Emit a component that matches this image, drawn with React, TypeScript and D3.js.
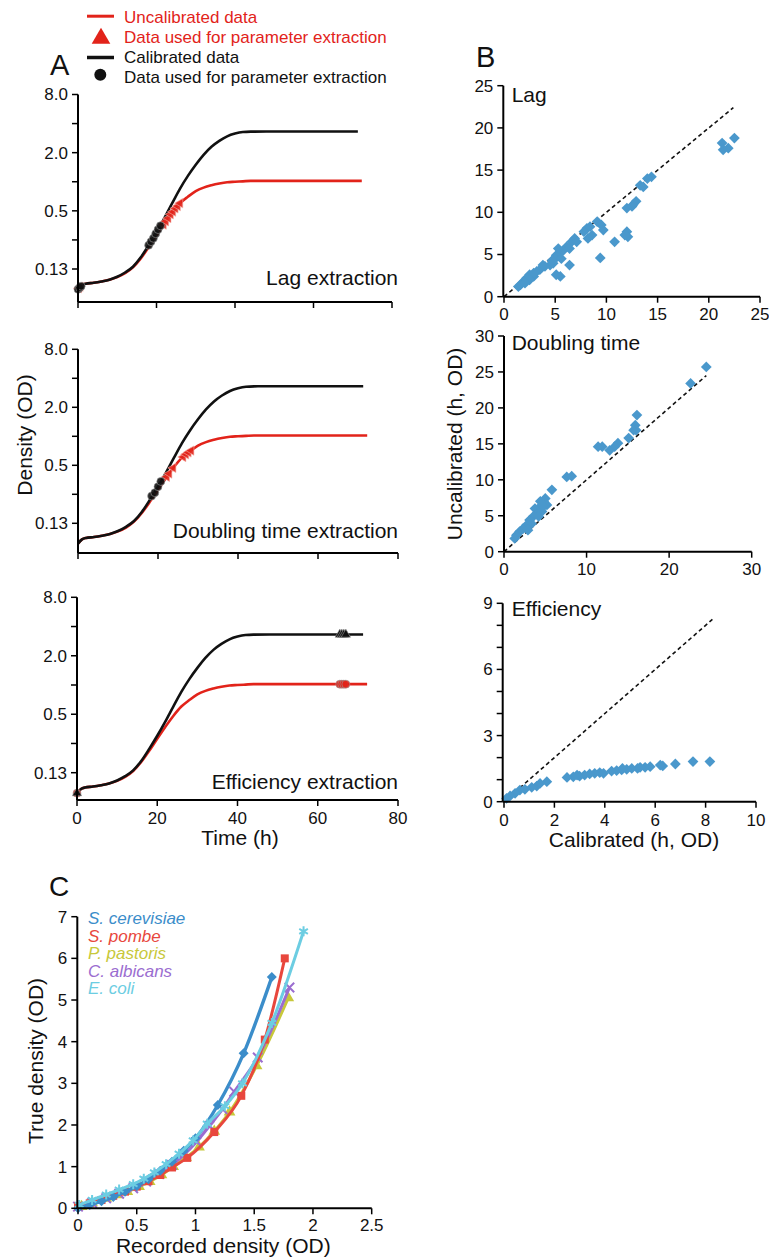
import React from "react";
import * as d3 from "d3";

const FONT = "'Liberation Sans', Arial, Helvetica, sans-serif";
const RED = "#e2231a";
const BLUE = "#4a98cc";

// ---------------- Panel A data ----------------
const calTime = [0, 1, 2, 4, 6, 8, 10, 12, 14, 16, 18, 20, 22, 24, 26, 28, 30, 32, 34, 36, 38, 40, 42, 44, 48, 56, 64, 71.3];
const calOD = [0.077, 0.085, 0.088, 0.09, 0.093, 0.097, 0.104, 0.115, 0.132, 0.165, 0.22, 0.3, 0.42, 0.6, 0.85, 1.15, 1.5, 1.9, 2.3, 2.65, 2.95, 3.15, 3.27, 3.3, 3.31, 3.31, 3.31, 3.31];
const uncalTime = [0, 1, 2, 4, 6, 8, 10, 12, 14, 16, 18, 20, 22, 24, 26, 28, 30, 32, 34, 36, 38, 40, 42, 44, 48, 56, 64, 72.3];
const uncalOD = [0.077, 0.085, 0.088, 0.09, 0.093, 0.097, 0.103, 0.113, 0.13, 0.161, 0.21, 0.28, 0.37, 0.48, 0.6, 0.7, 0.8, 0.87, 0.92, 0.96, 0.99, 1.0, 1.01, 1.02, 1.02, 1.02, 1.02, 1.02];

const densityTicks = [0.125, 0.5, 2, 8];
const densityTickLabels = ["0.13", "0.5", "2.0", "8.0"];
const densityMinor = [0.25, 1, 4];
const timeTicks = [0, 20, 40, 60, 80];

// markers: lag extraction
const lagCalMarkT = [0, 0.4, 0.8, 18, 18.6, 19.2, 19.8, 20.4, 21.0];
const lagCalMarkOD = [0.077, 0.08, 0.083, 0.22, 0.24, 0.26, 0.29, 0.32, 0.35];
const lagUncalMarkT = [0.2, 0.6, 21.8, 22.4, 23, 23.6, 24.2, 24.8, 25.4, 26];
const lagUncalMarkOD = [0.079, 0.082, 0.36, 0.39, 0.42, 0.46, 0.49, 0.53, 0.56, 0.6];
// markers: doubling time extraction
const dtCalMarkT = [18.4, 19.2, 20, 20.7];
const dtCalMarkOD = [0.24, 0.26, 0.3, 0.34];
const dtUncalMarkT = [22.2, 22.8, 23.8, 26.3, 27, 27.6, 28.3];
const dtUncalMarkOD = [0.38, 0.41, 0.47, 0.61, 0.65, 0.68, 0.71];
// markers: efficiency extraction
const effCalMarkT = [0, 65.5, 66, 66.5, 67];
const effCalMarkOD = [0.077, 3.31, 3.31, 3.31, 3.31];
const effUncalMarkT = [0, 65.5, 66, 66.5, 67];
const effUncalMarkOD = [0.077, 1.02, 1.02, 1.02, 1.02];

// ---------------- Panel B data ----------------
const lagCalibrated = [22.5, 21.3, 21.4, 21.9, 14.4, 14.0, 13.3, 13.6, 12.9, 12.6, 12.0, 12.5, 9.1, 9.5, 9.7, 9.4, 10.8, 12.0, 12.1, 11.8, 8.1, 7.8, 8.4, 8.2, 8.6, 6.4, 5.5, 5.1, 6.9, 6.6, 6.1, 5.8, 5.5, 5.1, 5.0, 4.8, 4.5, 4.0, 3.5, 3.2, 2.9, 2.5, 2.2, 1.9, 1.6, 1.4, 5.3, 5.6, 4.7, 3.8, 2.5, 2.05, 2.9, 7.1, 6.4];
const lagUncalibrated = [18.8, 18.2, 17.4, 17.6, 14.2, 14.0, 13.2, 13.0, 11.3, 10.9, 10.5, 10.7, 8.9, 8.5, 7.9, 4.6, 6.5, 7.7, 7.1, 7.3, 8.1, 7.7, 8.3, 6.9, 7.3, 3.75, 2.4, 2.6, 6.9, 6.5, 5.9, 5.5, 5.3, 4.9, 4.5, 3.95, 3.75, 3.6, 3.2, 3.0, 2.4, 2.6, 2.2, 1.8, 1.4, 1.2, 5.7, 4.5, 4.3, 3.75, 2.0, 1.6, 2.8, 6.5, 5.7];
const dtCalibrated = [24.5, 22.6, 16.1, 15.9, 16.0, 15.7, 15.1, 13.8, 13.4, 12.8, 11.9, 11.4, 7.6, 8.2, 5.8, 5.0, 4.8, 5.2, 4.4, 3.75, 4.0, 4.6, 3.55, 3.1, 3.35, 2.75, 2.3, 1.9, 1.5, 1.3, 4.2, 4.8, 2.9, 4.4];
const dtUncalibrated = [25.7, 23.4, 19.0, 17.6, 16.9, 16.9, 15.8, 15.1, 14.6, 14.1, 14.6, 14.6, 10.4, 10.5, 8.6, 7.4, 7.0, 6.5, 6.3, 6.0, 5.3, 5.6, 4.9, 4.4, 3.9, 3.7, 3.2, 2.8, 2.3, 1.85, 4.9, 6.3, 3.0, 7.0];
const effCalibrated = [8.17, 7.5, 6.8, 6.3, 6.2, 5.8, 5.6, 5.3, 5.07, 4.87, 4.67, 4.47, 4.27, 3.8, 3.6, 3.4, 3.2, 3.0, 2.75, 2.5, 1.7, 1.3, 1.1, 0.63, 0.44, 0.24, 0.1, 2.9, 3.95, 4.7, 5.4, 1.43, 0.83];
const effUncalibrated = [1.82, 1.82, 1.71, 1.62, 1.66, 1.59, 1.56, 1.51, 1.51, 1.47, 1.44, 1.41, 1.39, 1.32, 1.29, 1.26, 1.21, 1.16, 1.13, 1.1, 0.91, 0.71, 0.65, 0.53, 0.38, 0.26, 0.15, 1.21, 1.29, 1.51, 1.56, 0.83, 0.56];
const lagIdentityEnd = 22.4;
const dtIdentityEnd = 24.5;
const effIdentityEnd = 8.27;
const lagTicks = [0, 5, 10, 15, 20, 25];
const dtTicks = [0, 10, 20, 30];
const dtYTicks = [0, 5, 10, 15, 20, 25, 30];
const effXTicks = [0, 2, 4, 6, 8, 10];
const effYTicks = [0, 3, 6, 9];
const effYMinor = [1, 2, 4, 5, 7, 8];

// ---------------- Panel C data ----------------
const speciesNames = ["S. cerevisiae", "S. pombe", "P. pastoris", "C. albicans", "E. coli"];
const speciesColors = ["#3b8dca", "#e8473d", "#c8c83a", "#9b6dd0", "#6ccde2"];
const cerevisiaeRecorded = [0, 0.1, 0.2, 0.3, 0.4, 0.5, 0.6, 0.7, 0.8, 0.9, 1.0, 1.19, 1.41, 1.65];
const cerevisiaeTrue = [0, 0.08, 0.17, 0.27, 0.4, 0.53, 0.7, 0.9, 1.12, 1.38, 1.68, 2.48, 3.72, 5.55];
const pombeRecorded = [0, 0.1, 0.2, 0.3, 0.4, 0.5, 0.6, 0.7, 0.8, 0.93, 1.16, 1.39, 1.59, 1.76];
const pombeTrue = [0.05, 0.12, 0.2, 0.3, 0.4, 0.52, 0.65, 0.8, 0.98, 1.21, 1.83, 2.7, 4.05, 6.0];
const pastorisRecorded = [0.03, 0.12, 0.24, 0.33, 0.42, 0.52, 0.61, 0.71, 0.81, 0.92, 1.03, 1.16, 1.29, 1.52, 1.79];
const pastorisTrue = [0.04, 0.13, 0.24, 0.32, 0.4, 0.52, 0.64, 0.8, 1.0, 1.22, 1.47, 1.85, 2.31, 3.42, 5.05];
const albicansRecorded = [0, 0.12, 0.24, 0.35, 0.47, 0.58, 0.69, 0.8, 0.9, 1.01, 1.12, 1.23, 1.33, 1.53, 1.8];
const albicansTrue = [0.04, 0.13, 0.24, 0.35, 0.48, 0.64, 0.82, 1.04, 1.28, 1.6, 1.98, 2.38, 2.8, 3.62, 5.3];
const coliRecorded = [0.01, 0.12, 0.24, 0.35, 0.47, 0.56, 0.65, 0.75, 0.86, 0.98, 1.1, 1.25, 1.4, 1.65, 1.92];
const coliTrue = [0.08, 0.2, 0.33, 0.45, 0.58, 0.71, 0.86, 1.06, 1.31, 1.63, 2.03, 2.45, 3.0, 4.45, 6.65];
const recordedTicks = [0, 0.5, 1, 1.5, 2, 2.5];
const recordedTickLabels = ["0", "0.5", "1", "1.5", "2", "2.5"];
const trueTicks = [0, 1, 2, 3, 4, 5, 6, 7];

// ---------------- helpers ----------------
type Sc = (v: number) => number;

function LeftAxis({ x, y, ticks, labels, minor, top, bottom, fs = 17 }: { x: number; y: Sc; ticks: number[]; labels: string[]; minor?: number[]; top: number; bottom: number; fs?: number }) {
  return (
    <g>
      <line x1={x} x2={x} y1={bottom} y2={top} stroke="#000" strokeWidth={2} />
      {ticks.map((t, i) => (
        <g key={"t" + i}>
          <line x1={x - 6} x2={x} y1={y(t)} y2={y(t)} stroke="#000" strokeWidth={1.5} />
          <text x={x - 10} y={y(t)} dy="0.35em" textAnchor="end" fontSize={fs} fill="#111">{labels[i]}</text>
        </g>
      ))}
      {(minor || []).map((t, i) => (
        <line key={"m" + i} x1={x - 6} x2={x} y1={y(t)} y2={y(t)} stroke="#000" strokeWidth={1.5} />
      ))}
    </g>
  );
}

function BottomAxis({ y, x, ticks, labels, left, right, labelY, fs = 17 }: { y: number; x: Sc; ticks: number[]; labels?: string[]; left: number; right: number; labelY?: number; fs?: number }) {
  return (
    <g>
      <line x1={left} x2={right} y1={y} y2={y} stroke="#000" strokeWidth={2} />
      {ticks.map((t, i) => (
        <g key={i}>
          <line x1={x(t)} x2={x(t)} y1={y} y2={y + 6} stroke="#000" strokeWidth={1.5} />
          {labels && labelY !== undefined ? (
            <text x={x(t)} y={labelY} dy="0.35em" textAnchor="middle" fontSize={fs} fill="#111">{labels[i]}</text>
          ) : null}
        </g>
      ))}
    </g>
  );
}

// ---------------- Panel A ----------------
const panelsA = [
  { x0: 78, x1: 392, y8: 94.5, y0125: 269, axisY: 302, title: "Lag extraction", titleY: 285,
    calT: lagCalMarkT, calOD: lagCalMarkOD, calShape: "circle", uncalT: lagUncalMarkT, uncalOD: lagUncalMarkOD, uncalShape: "tri" },
  { x0: 78, x1: 398, y8: 349.3, y0125: 523.3, axisY: 553, title: "Doubling time extraction", titleY: 538,
    calT: dtCalMarkT, calOD: dtCalMarkOD, calShape: "circle", uncalT: dtUncalMarkT, uncalOD: dtUncalMarkOD, uncalShape: "tri" },
  { x0: 77, x1: 398, y8: 597.3, y0125: 772.7, axisY: 800, title: "Efficiency extraction", titleY: 789,
    calT: effCalMarkT, calOD: effCalMarkOD, calShape: "uptri", uncalT: effUncalMarkT, uncalOD: effUncalMarkOD, uncalShape: "circle" },
];

function marker(shape: string, cx: number, cy: number, fill: string, key: string) {
  if (shape === "circle") {
    return <circle key={key} cx={cx} cy={cy} r={4} fill={fill} stroke="#999" strokeWidth={0.6} fillOpacity={0.9} />;
  }
  if (shape === "tri") {
    const p = d3.symbol(d3.symbolTriangle, 38)();
    return <path key={key} d={p || ""} transform={`translate(${cx},${cy}) rotate(-90)`} fill={fill} stroke="#f3b0a8" strokeWidth={0.6} fillOpacity={0.9} />;
  }
  const p = d3.symbol(d3.symbolTriangle, 38)();
  return <path key={key} d={p || ""} transform={`translate(${cx},${cy})`} fill={fill} stroke="#999" strokeWidth={0.6} />;
}

function GrowthPanel({ cfg, last }: { cfg: typeof panelsA[number]; last: boolean }) {
  const x = d3.scaleLinear().domain([0, 80]).range([cfg.x0, cfg.x1]);
  const y = d3.scaleLog().base(2).domain([0.125, 8]).range([cfg.y0125, cfg.y8]);
  const calPath = d3.line<number>().x((_, i) => x(calTime[i])).y((d) => y(d)).curve(d3.curveMonotoneX)(calOD);
  const uncalPath = d3.line<number>().x((_, i) => x(uncalTime[i])).y((d) => y(d)).curve(d3.curveMonotoneX)(uncalOD);
  return (
    <g>
      <path d={uncalPath || ""} fill="none" stroke={RED} strokeWidth={2.6} />
      <path d={calPath || ""} fill="none" stroke="#111" strokeWidth={2.6} />
      {cfg.uncalT.map((t, i) => marker(cfg.uncalShape, x(t), y(cfg.uncalOD[i]), RED, "u" + i))}
      {cfg.calT.map((t, i) => marker(cfg.calShape, x(t), y(cfg.calOD[i]), "#111", "c" + i))}
      <LeftAxis x={cfg.x0} y={y} ticks={densityTicks} labels={densityTickLabels} minor={densityMinor} top={cfg.y8} bottom={cfg.axisY} />
      <BottomAxis y={cfg.axisY} x={x} ticks={timeTicks} labels={last ? timeTicks.map(String) : undefined} labelY={last ? 818 : undefined} left={cfg.x0} right={cfg.x1} />
      <text x={398} y={cfg.titleY} textAnchor="end" fontSize={21} fill="#111">{cfg.title}</text>
    </g>
  );
}

// ---------------- Panel B ----------------
function Scatter({ xs, ys, x, y }: { xs: number[]; ys: number[]; x: Sc; y: Sc }) {
  const p = d3.symbol(d3.symbolSquare, 58)() || "";
  return (
    <g>
      {xs.map((v, i) => (
        <path key={i} d={p} transform={`translate(${x(v)},${y(ys[i])}) rotate(45)`} fill={BLUE} />
      ))}
    </g>
  );
}

function PanelB() {
  const lx = d3.scaleLinear().domain([0, 25]).range([504, 760]);
  const ly = d3.scaleLinear().domain([0, 25]).range([296.7, 85.7]);
  const dx = d3.scaleLinear().domain([0, 30]).range([504, 751.7]);
  const dy = d3.scaleLinear().domain([0, 30]).range([551.7, 336]);
  const ex = d3.scaleLinear().domain([0, 10]).range([504, 756]);
  const ey = d3.scaleLinear().domain([0, 9]).range([801.7, 603.3]);
  return (
    <g>
      {/* Lag */}
      <line x1={lx(0)} y1={ly(0)} x2={lx(lagIdentityEnd)} y2={ly(lagIdentityEnd)} stroke="#111" strokeWidth={1.6} strokeDasharray="4,3" />
      <Scatter xs={lagCalibrated} ys={lagUncalibrated} x={lx} y={ly} />
      <LeftAxis x={503.3} y={ly} ticks={lagTicks} labels={lagTicks.map(String)} top={ly(25)} bottom={ly(0)} />
      <BottomAxis y={296.7} x={lx} ticks={lagTicks} labels={lagTicks.map(String)} labelY={314} left={503.3} right={lx(25)} />
      <text x={511.7} y={101.7} fontSize={21} fill="#111">Lag</text>

      {/* Doubling time */}
      <line x1={dx(0)} y1={dy(0)} x2={dx(dtIdentityEnd)} y2={dy(dtIdentityEnd)} stroke="#111" strokeWidth={1.6} strokeDasharray="4,3" />
      <Scatter xs={dtCalibrated} ys={dtUncalibrated} x={dx} y={dy} />
      <LeftAxis x={504} y={dy} ticks={dtYTicks} labels={dtYTicks.map(String)} top={dy(30)} bottom={dy(0)} />
      <BottomAxis y={551.7} x={dx} ticks={dtTicks} labels={dtTicks.map(String)} labelY={569} left={504} right={dx(30)} />
      <text x={511.7} y={350} fontSize={21} fill="#111">Doubling time</text>

      {/* Efficiency */}
      <line x1={ex(0)} y1={ey(0)} x2={ex(effIdentityEnd)} y2={ey(effIdentityEnd)} stroke="#111" strokeWidth={1.6} strokeDasharray="4,3" />
      <Scatter xs={effCalibrated} ys={effUncalibrated} x={ex} y={ey} />
      <LeftAxis x={502.7} y={ey} ticks={effYTicks} labels={effYTicks.map(String)} minor={effYMinor} top={ey(9)} bottom={ey(0)} />
      <BottomAxis y={801.7} x={ex} ticks={effXTicks} labels={effXTicks.map(String)} labelY={820} left={502.7} right={ex(10)} />
      <text x={511.7} y={616} fontSize={21} fill="#111">Efficiency</text>

      <text transform="translate(462,444) rotate(-90)" textAnchor="middle" fontSize={21} fill="#111">Uncalibrated (h, OD)</text>
      <text x={634} y={846.7} textAnchor="middle" fontSize={21} fill="#111">Calibrated (h, OD)</text>
    </g>
  );
}

// ---------------- Panel C ----------------
const speciesRecorded = [cerevisiaeRecorded, pombeRecorded, pastorisRecorded, albicansRecorded, coliRecorded];
const speciesTrue = [cerevisiaeTrue, pombeTrue, pastorisTrue, albicansTrue, coliTrue];
const speciesSymbols = ["diamond", "square", "triangle", "times", "asterisk"];
const drawOrder = [2, 3, 1, 0, 4];

function PanelC() {
  const x = d3.scaleLinear().domain([0, 2.5]).range([78, 371.7]);
  const y = d3.scaleLinear().domain([0, 7]).range([1208.3, 916.7]);
  return (
    <g>
      {drawOrder.map((s) => {
        const xs = speciesRecorded[s];
        const ys = speciesTrue[s];
        const path = d3.line<number>().x((d) => x(d)).y((_, i) => y(ys[i])).curve(d3.curveMonotoneX)(xs) || "";
        const col = speciesColors[s];
        const sym = speciesSymbols[s];
        return (
          <g key={s}>
            <path d={path} fill="none" stroke={col} strokeWidth={s === 0 ? 3.4 : 3} />
            {xs.map((v, i) => {
              const cx = x(v), cy = y(ys[i]);
              if (sym === "diamond") return <path key={i} d={d3.symbol(d3.symbolSquare, 50)() || ""} transform={`translate(${cx},${cy}) rotate(45)`} fill={col} />;
              if (sym === "square") return <path key={i} d={d3.symbol(d3.symbolSquare, 64)() || ""} transform={`translate(${cx},${cy})`} fill={col} />;
              if (sym === "triangle") return <path key={i} d={d3.symbol(d3.symbolTriangle, 60)() || ""} transform={`translate(${cx},${cy})`} fill={col} />;
              if (sym === "times") return <path key={i} d={d3.symbol(d3.symbolTimes, 60)() || ""} transform={`translate(${cx},${cy})`} fill="none" stroke={col} strokeWidth={2} />;
              return <path key={i} d={d3.symbol(d3.symbolAsterisk, 70)() || ""} transform={`translate(${cx},${cy})`} fill="none" stroke={col} strokeWidth={2} />;
            })}
          </g>
        );
      })}
      <LeftAxis x={77.3} y={y} ticks={trueTicks} labels={trueTicks.map(String)} top={y(7)} bottom={y(0)} />
      <BottomAxis y={1208.3} x={x} ticks={recordedTicks} labels={recordedTickLabels} labelY={1225} left={77.3} right={x(2.5)} />
      {speciesNames.map((n, i) => (
        <text key={n} x={88} y={924 + i * 17.6} fontSize={17} fontStyle="italic" fill={speciesColors[i]}>{n}</text>
      ))}
      <text transform="translate(43,1061) rotate(-90)" textAnchor="middle" fontSize={21} fill="#111">True density (OD)</text>
      <text x={223.3} y={1253.3} textAnchor="middle" fontSize={21} fill="#111">Recorded density (OD)</text>
    </g>
  );
}

export default function App() {
  const triLegend = d3.symbol(d3.symbolTriangle, 150)() || "";
  return (
    <svg width={769} height={1260} style={{ position: "absolute", left: 0, top: 0, background: "#fff" }} fontFamily={FONT}>
      {/* legend */}
      <line x1={87} x2={114} y1={16.2} y2={16.2} stroke={RED} strokeWidth={3} />
      <text x={124} y={22.7} fontSize={17} fill={RED}>Uncalibrated data</text>
      <path d={triLegend} transform="translate(101,38.5)" fill={RED} />
      <text x={124} y={42.7} fontSize={17} fill={RED}>Data used for parameter extraction</text>
      <line x1={87} x2={114} y1={57.5} y2={57.5} stroke="#111" strokeWidth={3.5} />
      <text x={124} y={63.3} fontSize={17} fill="#111">Calibrated data</text>
      <circle cx={100.3} cy={74.7} r={6} fill="#111" />
      <text x={124} y={82.7} fontSize={17} fill="#111">Data used for parameter extraction</text>

      <text x={50} y={75} fontSize={29} fill="#111">A</text>
      <text x={476} y={66.7} fontSize={29} fill="#111">B</text>
      <text x={49} y={896} fontSize={28} fill="#111">C</text>

      {panelsA.map((cfg, i) => (
        <GrowthPanel key={i} cfg={cfg} last={i === 2} />
      ))}
      <text transform="translate(31.5,435) rotate(-90)" textAnchor="middle" fontSize={21} fill="#111">Density (OD)</text>
      <text x={240} y={845} textAnchor="middle" fontSize={21} fill="#111">Time (h)</text>

      <PanelB />
      <PanelC />
    </svg>
  );
}
